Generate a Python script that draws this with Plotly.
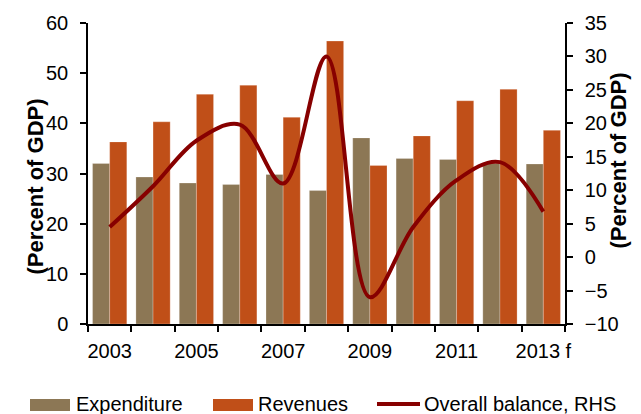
import plotly.graph_objects as go

# Datos (porcentaje del PIB)
anios = ['2003', '2004', '2005', '2006', '2007', '2008', '2009', '2010', '2011', '2012', '2013 f']
etiquetas = ['2003', '', '2005', '', '2007', '', '2009', '', '2011', '', '2013 f']
gasto = [32.0, 29.3, 28.1, 27.8, 29.8, 26.6, 37.1, 33.0, 32.8, 32.0, 31.9]
ingresos = [36.3, 40.3, 45.8, 47.6, 41.2, 56.4, 31.6, 37.5, 44.5, 46.8, 38.6]
balance = [4.5, 10.6, 17.4, 19.8, 11.0, 30.0, -6.0, 4.5, 11.5, 14.2, 6.8]

COLOR_GASTO = '#8C7755'
COLOR_INGRESOS = '#C04F18'
COLOR_BALANCE = '#870000'
FUENTE = 'Liberation Sans, Arial, sans-serif'

# Area de trazado en pixeles (para ubicar leyenda y titulos)
L, R, T, B = 88, 565, 23, 324
W, H = 641, 414


def px_x(p):
    return (p - L) / (R - L)


def px_y(p):
    return (B - p) / (B - T)


fig = go.Figure()

fig.add_trace(go.Bar(x=anios, y=gasto, name='Expenditure',
                     marker=dict(color=COLOR_GASTO, line=dict(color='rgba(255,255,255,0.4)', width=0.6))))
fig.add_trace(go.Bar(x=anios, y=ingresos, name='Revenues',
                     marker=dict(color=COLOR_INGRESOS, line=dict(color='rgba(255,255,255,0.4)', width=0.6))))
fig.add_trace(go.Scatter(x=anios, y=balance, name='Overall balance, RHS', yaxis='y2',
                         mode='lines', line=dict(color=COLOR_BALANCE, width=4, shape='spline', smoothing=1)))

fig.update_layout(
    width=W, height=H,
    margin=dict(l=L, r=W - R, t=T, b=H - B, autoexpand=False),
    paper_bgcolor='white', plot_bgcolor='white',
    font=dict(family=FUENTE, size=20, color='black'),
    showlegend=False,
    barmode='group', bargap=0.21, bargroupgap=0,
    xaxis=dict(type='category', tickvals=anios, ticktext=etiquetas, tickson='boundaries',
               tickangle=0, ticks='outside', ticklen=6, tickwidth=1.5, tickcolor='black',
               showline=True, linecolor='black', linewidth=1.5, showgrid=False,
               ticklabelstandoff=8, range=[-0.5, 10.5]),
    yaxis=dict(range=[0, 60], tickvals=list(range(0, 61, 10)), ticks='outside', ticklen=6,
               tickwidth=1.5, tickcolor='black', showline=True, linecolor='black', linewidth=1.5,
               showgrid=False, zeroline=False, ticklabelstandoff=8),
    yaxis2=dict(range=[-10, 35], tickvals=list(range(-10, 36, 5)), overlaying='y', side='right',
                ticks='outside', ticklen=6, tickwidth=1.5, tickcolor='black', showline=True,
                linecolor='black', linewidth=1.5, showgrid=False, zeroline=False, ticklabelstandoff=8),
)

# Titulos de los ejes
fig.add_annotation(text='<b>(Percent of GDP)</b>', textangle=-90, xref='paper', yref='paper',
                   x=px_x(20), y=px_y(187), showarrow=False, font=dict(size=22))
fig.add_annotation(text='<b>(Percent of GDP)</b>', textangle=-90, xref='paper', yref='paper',
                   x=px_x(632), y=px_y(161), showarrow=False, font=dict(size=22))

# Leyenda manual
ley_y = 404
fig.add_shape(type='rect', xref='paper', yref='paper', x0=px_x(30), x1=px_x(70),
              y0=px_y(399), y1=px_y(411), fillcolor=COLOR_GASTO, line=dict(width=0))
fig.add_shape(type='rect', xref='paper', yref='paper', x0=px_x(213), x1=px_x(253),
              y0=px_y(399), y1=px_y(411), fillcolor=COLOR_INGRESOS, line=dict(width=0))
fig.add_shape(type='line', xref='paper', yref='paper', x0=px_x(377), x1=px_x(420),
              y0=px_y(404), y1=px_y(404), line=dict(color=COLOR_BALANCE, width=4))
for texto, xi in [('Expenditure', 74), ('Revenues', 256), ('Overall balance, RHS', 422)]:
    fig.add_annotation(text=texto, xref='paper', yref='paper', x=px_x(xi), y=px_y(ley_y),
                       xanchor='left', yanchor='middle', showarrow=False, font=dict(size=20))

# Sin margen del body para que la figura quede en (0, 0)
fig.write_html("out.html", config={'displayModeBar': False},
               post_script="document.body.style.margin='0';")
